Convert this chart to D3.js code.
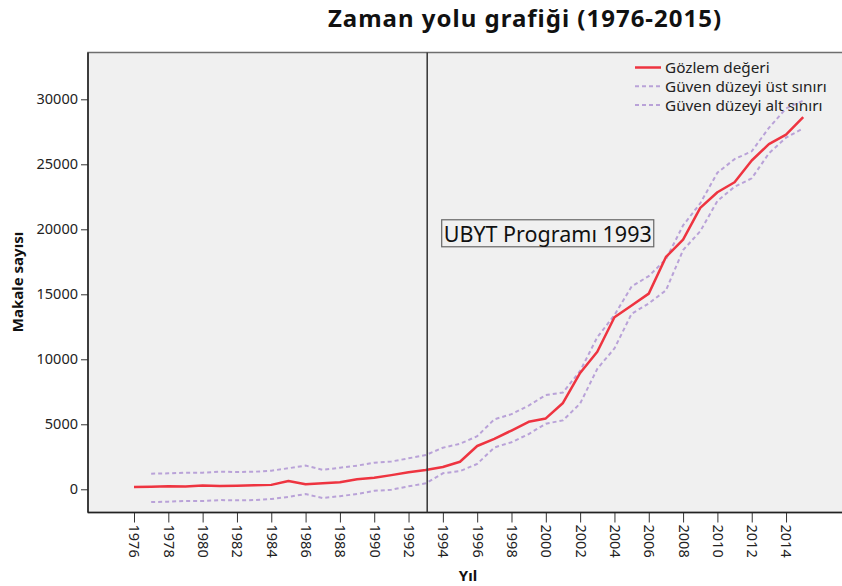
<!DOCTYPE html>
<html>
<head>
<meta charset="utf-8">
<script src="https://cdn.jsdelivr.net/npm/d3@7"></script>
<style>
  body { margin: 0; background: #fff; }
  svg { display: block; font-family: "Noto Sans", sans-serif; }
</style>
</head>
<body>
<svg width="842" height="586"></svg>
<script>
  const years = [1976, 1977, 1978, 1979, 1980, 1981, 1982, 1983, 1984, 1985,
    1986, 1987, 1988, 1989, 1990, 1991, 1992, 1993, 1994, 1995,
    1996, 1997, 1998, 1999, 2000, 2001, 2002, 2003, 2004, 2005,
    2006, 2007, 2008, 2009, 2010, 2011, 2012, 2013, 2014, 2015];

  // Gözlem değeri
  const observed = [170, 200, 230, 210, 300, 260, 280, 310, 340, 640,
    390, 460, 550, 780, 880, 1090, 1310, 1480, 1720, 2120,
    3330, 3880, 4520, 5190, 5450, 6640, 8950, 10580, 13230, 14140,
    15050, 17870, 19200, 21650, 22850, 23620, 25290, 26550, 27280, 28620];

  // Güven düzeyi üst sınırı (1977'den başlar)
  const upperBound = [null, 1200, 1230, 1280, 1280, 1350, 1330, 1350, 1430, 1620,
    1820, 1500, 1660, 1820, 2050, 2140, 2380, 2630, 3200, 3500,
    4080, 5380, 5780, 6440, 7250, 7450, 9100, 11700, 13400, 15600,
    16400, 17700, 20300, 22000, 24350, 25400, 26000, 27800, 29300, 29900];

  // Güven düzeyi alt sınırı
  const lowerBound = [null, -980, -950, -900, -900, -830, -850, -830, -750, -580,
    -370, -670, -530, -360, -120, -30, 230, 460, 1230, 1400,
    1950, 3220, 3620, 4250, 5050, 5300, 6600, 9270, 10840, 13500,
    14300, 15300, 18400, 19850, 22180, 23270, 23920, 25840, 27050, 27760];

  const yTicks = [0, 5000, 10000, 15000, 20000, 25000, 30000];
  const xTickYears = [1976, 1978, 1980, 1982, 1984, 1986, 1988, 1990, 1992, 1994,
    1996, 1998, 2000, 2002, 2004, 2006, 2008, 2010, 2012, 2014];
  const legendLabels = ['Gözlem değeri', 'Güven düzeyi üst sınırı', 'Güven düzeyi alt sınırı'];
  const refYear = 1993;
  const refLabel = 'UBYT Programı 1993';
  const refLabelValue = 19040;

  const red = '#ee3440';
  const purple = '#b9a2d8';

  const svg = d3.select('svg');
  const plot = { left: 88, top: 52.5, right: 849, bottom: 512.5 };

  const x = d3.scalePoint()
    .domain(years)
    .range([134, 803.2]);

  const y = d3.scaleLinear()
    .domain([-1785, 33600])
    .range([plot.bottom, plot.top]);

  // plot background + frame
  svg.append('rect')
    .attr('x', plot.left)
    .attr('y', plot.top)
    .attr('width', plot.right - plot.left)
    .attr('height', plot.bottom - plot.top)
    .attr('fill', '#f0f0f0')
    .attr('stroke', '#6e6e6e')
    .attr('stroke-width', 1.5);

  // y axis
  const yAxis = svg.append('g')
    .attr('transform', `translate(${plot.left},0)`)
    .call(d3.axisLeft(y).tickValues(yTicks).tickSize(7).tickPadding(3).tickFormat(d3.format('d')));
  yAxis.select('.domain').remove();
  yAxis.selectAll('.tick line').attr('stroke', '#333');
  yAxis.selectAll('.tick text')
    .attr('font-size', 14.5)
    .attr('font-family', '"Noto Sans", sans-serif')
    .attr('fill', '#222');

  // x axis
  const xAxis = svg.append('g')
    .attr('transform', `translate(0,${plot.bottom})`)
    .call(d3.axisBottom(x).tickValues(xTickYears).tickSize(10));
  xAxis.select('.domain').remove();
  xAxis.selectAll('.tick line').attr('stroke', '#333');
  xAxis.selectAll('.tick text')
    .attr('font-size', 14.5)
    .attr('font-family', '"Noto Sans", sans-serif')
    .attr('fill', '#222')
    .attr('transform', 'rotate(90)')
    .attr('text-anchor', 'start')
    .attr('x', 12)
    .attr('y', 0)
    .attr('dy', '0.35em');

  // axis lines
  svg.append('line')
    .attr('x1', plot.left).attr('x2', plot.left)
    .attr('y1', plot.top).attr('y2', plot.bottom)
    .attr('stroke', '#222').attr('stroke-width', 1.5);
  svg.append('line')
    .attr('x1', plot.left).attr('x2', plot.right)
    .attr('y1', plot.bottom).attr('y2', plot.bottom)
    .attr('stroke', '#222').attr('stroke-width', 1.5);

  // series
  const line = d3.line()
    .defined(d => d[1] != null)
    .x(d => x(d[0]))
    .y(d => y(d[1]));

  const seriesData = vals => years.map((yr, i) => [yr, vals[i]]);

  svg.append('path')
    .datum(seriesData(upperBound))
    .attr('d', line)
    .attr('fill', 'none')
    .attr('stroke', purple)
    .attr('stroke-width', 2)
    .attr('stroke-dasharray', '4,3');

  svg.append('path')
    .datum(seriesData(lowerBound))
    .attr('d', line)
    .attr('fill', 'none')
    .attr('stroke', purple)
    .attr('stroke-width', 2)
    .attr('stroke-dasharray', '4,3');

  svg.append('path')
    .datum(seriesData(observed))
    .attr('d', line)
    .attr('fill', 'none')
    .attr('stroke', red)
    .attr('stroke-width', 2.5)
    .attr('stroke-linejoin', 'round');

  // reference line
  svg.append('line')
    .attr('x1', x(refYear) + 1.5).attr('x2', x(refYear) + 1.5)
    .attr('y1', plot.top).attr('y2', plot.bottom)
    .attr('stroke', '#333').attr('stroke-width', 1.5);

  const refBox = svg.append('rect');
  const refText = svg.append('text')
    .attr('x', x(refYear) + 18)
    .attr('y', y(refLabelValue))
    .attr('font-size', 21.5)
    .attr('fill', '#111')
    .text(refLabel);
  const bb = refText.node().getBBox();
  refBox
    .attr('x', bb.x - 2)
    .attr('y', bb.y + 1)
    .attr('width', bb.width + 4)
    .attr('height', bb.height - 2)
    .attr('fill', '#f0f0f0')
    .attr('stroke', '#666')
    .attr('stroke-width', 1.2);

  // legend
  const legend = svg.append('g')
    .attr('transform', 'translate(635,67.5)');
  const items = legend.selectAll('g')
    .data(legendLabels)
    .enter().append('g')
      .attr('transform', (d, i) => `translate(0,${i * 18.8})`);
  items.append('line')
    .attr('x1', 0).attr('x2', 26)
    .attr('stroke', (d, i) => i === 0 ? red : purple)
    .attr('stroke-width', (d, i) => i === 0 ? 2.5 : 2)
    .attr('stroke-dasharray', (d, i) => i === 0 ? null : '4,3');
  items.append('text')
    .attr('x', 30)
    .attr('dy', '0.36em')
    .attr('font-size', 15.3)
    .attr('fill', '#222')
    .text(d => d);

  // titles
  svg.append('text')
    .attr('x', 525)
    .attr('y', 27)
    .attr('text-anchor', 'middle')
    .attr('font-size', 24)
    .attr('font-weight', 'bold')
    .attr('letter-spacing', 1)
    .attr('fill', '#111')
    .text('Zaman yolu grafiği (1976-2015)');

  svg.append('text')
    .attr('x', 468)
    .attr('y', 581)
    .attr('text-anchor', 'middle')
    .attr('font-size', 15)
    .attr('font-weight', 'bold')
    .attr('fill', '#111')
    .text('Yıl');

  svg.append('text')
    .attr('transform', 'translate(23,282) rotate(-90)')
    .attr('text-anchor', 'middle')
    .attr('font-size', 15)
    .attr('font-weight', 'bold')
    .attr('fill', '#111')
    .text('Makale sayısı');
</script>
</body>
</html>
